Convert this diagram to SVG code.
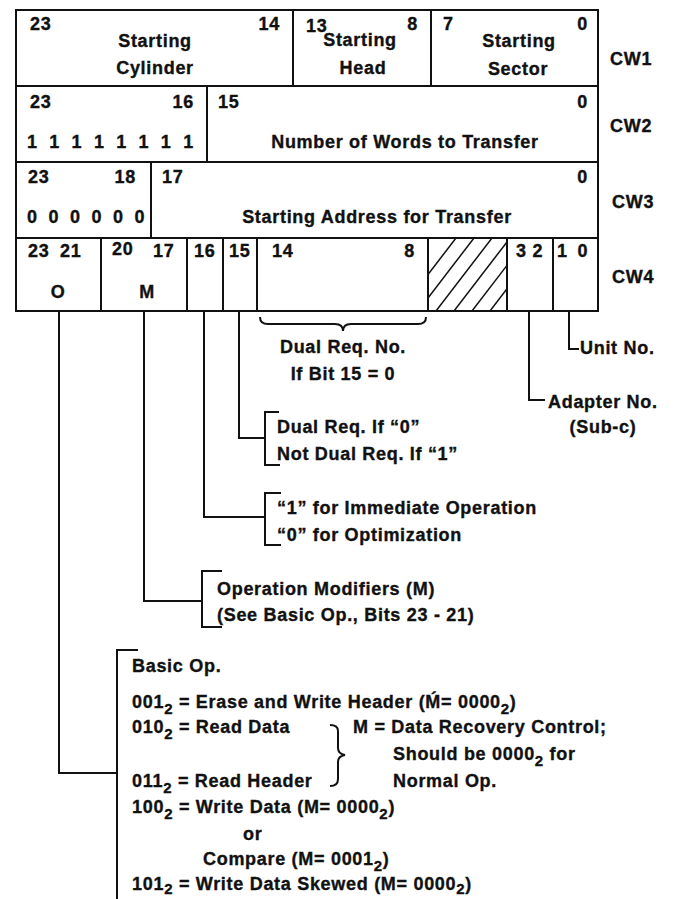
<svg xmlns="http://www.w3.org/2000/svg" width="677" height="899" viewBox="0 0 677 899">
<style>
text{font-family:"Liberation Sans",Arial,Helvetica,sans-serif;font-weight:bold;font-size:18px;letter-spacing:0.7px;fill:#111;stroke:#111;stroke-width:0.35px}
.m{text-anchor:middle}
.e{text-anchor:end}
.cell{fill:#fff;stroke:#111;stroke-width:2}
.ln{fill:none;stroke:#111;stroke-width:2}
.h{stroke:#111;stroke-width:1.5}
.sub{font-size:15px}
</style>
<defs>
<clipPath id="hc"><rect x="428" y="238" width="79" height="73"/></clipPath>
</defs>
<rect width="677" height="899" fill="#fff"/>

<g id="cw1">
<g id="cw1-cyl"><rect class="cell" x="16" y="10" width="277" height="76"/>
<text x="30" y="30">23</text><text class="e" x="280" y="30">14</text>
<text class="m" x="155" y="47">Starting</text><text class="m" x="155" y="74">Cylinder</text></g>
<g id="cw1-head"><rect class="cell" x="293" y="10" width="138" height="76"/>
<text x="306" y="32">13</text><text class="e" x="418" y="30">8</text>
<text class="m" x="360" y="46">Starting</text><text class="m" x="363" y="74">Head</text></g>
<g id="cw1-sec"><rect class="cell" x="431" y="10" width="167" height="76"/>
<text x="443" y="30">7</text><text class="e" x="588" y="30">0</text>
<text class="m" x="519" y="47">Starting</text><text class="m" x="518" y="75">Sector</text></g>
</g>

<g id="cw2">
<g id="cw2-ones"><rect class="cell" x="16" y="86" width="191" height="76"/>
<text x="30" y="108">23</text><text class="e" x="194" y="108">16</text>
<text x="27" y="148" style="word-spacing:5.9px">1 1 1 1 1 1 1 1</text></g>
<g id="cw2-words"><rect class="cell" x="207" y="86" width="391" height="76"/>
<text x="218" y="108">15</text><text class="e" x="588" y="108">0</text>
<text class="m" x="405" y="148">Number of Words to Transfer</text></g>
</g>

<g id="cw3">
<g id="cw3-zeros"><rect class="cell" x="16" y="162" width="135" height="76"/>
<text x="28" y="183">23</text><text class="e" x="136" y="183">18</text>
<text x="27" y="223" style="word-spacing:5.1px">0 0 0 0 0 0</text></g>
<g id="cw3-addr"><rect class="cell" x="151" y="162" width="447" height="76"/>
<text x="162" y="183">17</text><text class="e" x="588" y="183">0</text>
<text class="m" x="377" y="223">Starting Address for Transfer</text></g>
</g>

<g id="cw4">
<g id="cw4-o"><rect class="cell" x="16" y="238" width="85" height="73"/>
<text x="28" y="257">23</text><text x="60" y="257">21</text>
<text class="m" x="58" y="298">O</text></g>
<g id="cw4-m"><rect class="cell" x="101" y="238" width="86" height="73"/>
<text x="112" y="255">20</text><text x="153" y="257">17</text>
<text class="m" x="147" y="298">M</text></g>
<g id="cw4-16"><rect class="cell" x="187" y="238" width="36" height="73"/>
<text x="194" y="257">16</text></g>
<g id="cw4-15"><rect class="cell" x="223" y="238" width="34" height="73"/>
<text x="229" y="257">15</text></g>
<g id="cw4-dual"><rect class="cell" x="257" y="238" width="171" height="73"/>
<text x="272" y="257">14</text><text class="e" x="415" y="257">8</text></g>
<g id="cw4-hatch"><rect class="cell" x="428" y="238" width="79" height="73"/>
<g clip-path="url(#hc)">
<line class="h" x1="400" y1="311" x2="456" y2="238"/>
<line class="h" x1="418" y1="311" x2="474" y2="238"/>
<line class="h" x1="436" y1="311" x2="492" y2="238"/>
<line class="h" x1="454" y1="311" x2="510" y2="238"/>
<line class="h" x1="472" y1="311" x2="528" y2="238"/>
<line class="h" x1="490" y1="311" x2="546" y2="238"/>
</g></g>
<g id="cw4-adapter"><rect class="cell" x="507" y="238" width="46" height="73"/>
<text x="516" y="257">3 2</text></g>
<g id="cw4-unit"><rect class="cell" x="553" y="238" width="45" height="73"/>
<text x="557" y="257" style="word-spacing:4px">1 0</text></g>
</g>

<g id="labels">
<text x="610" y="65">CW1</text>
<text x="610" y="132">CW2</text>
<text x="612" y="208">CW3</text>
<text x="612" y="283">CW4</text>
</g>

<g id="connectors">
<path class="ln" d="M260 317 Q260 324 268 324 L335 324 Q343 324 343 331 Q343 324 351 324 L418 324 Q426 324 426 317"/>
<path class="ln" d="M569 311 L569 349 L579 349"/>
<path class="ln" d="M529 311 L529 400 L545 400"/>
<path class="ln" d="M239 311 L239 438 L265 438"/>
<path class="ln" d="M279 412 L265 412 L265 465 L280 465"/>
<path class="ln" d="M204 311 L204 517 L265 517"/>
<path class="ln" d="M281 493 L265 493 L265 545 L281 545"/>
<path class="ln" d="M144 311 L144 601 L202 601"/>
<path class="ln" d="M222 571 L202 571 L202 627 L222 627"/>
<path class="ln" d="M59 311 L59 773 L117 773"/>
<path class="ln" d="M138 650 L117 650 L117 899"/>
<path class="ln" d="M330 725 Q338 725 338 731 L338 748 Q338 754 345 755 Q338 756 338 762 L338 779 Q338 786 330 786"/>
</g>

<g id="note-unit"><text x="580" y="354">Unit No.</text></g>
<g id="note-adapter"><text x="548" y="408">Adapter No.</text><text class="m" x="603" y="433">(Sub-c)</text></g>
<g id="note-dualno"><text class="m" x="343" y="353">Dual Req. No.</text><text class="m" x="343" y="380">If Bit 15 = 0</text></g>
<g id="note-15"><text x="277" y="433">Dual Req. If “0”</text><text x="277" y="460">Not Dual Req. If “1”</text></g>
<g id="note-16"><text x="277" y="514">“1” for Immediate Operation</text><text x="277" y="541">“0” for Optimization</text></g>
<g id="note-m"><text x="217" y="595">Operation Modifiers (M)</text><text x="217" y="621">(See Basic Op., Bits 23 - 21)</text></g>
<g id="note-o">
<text x="132" y="672">Basic Op.</text>
<text x="132" y="708">001<tspan class="sub" dy="6">2</tspan><tspan dy="-6"> = Erase and Write Header (Ḿ= 0000</tspan><tspan class="sub" dy="6">2</tspan><tspan dy="-6">)</tspan></text>
<text x="132" y="733">010<tspan class="sub" dy="6">2</tspan><tspan dy="-6"> = Read Data</tspan></text>
<text x="132" y="787">011<tspan class="sub" dy="6">2</tspan><tspan dy="-6"> = Read Header</tspan></text>
<text x="353" y="733">M = Data Recovery Control;</text>
<text x="393" y="760">Should be 0000<tspan class="sub" dy="6">2</tspan><tspan dy="-6"> for</tspan></text>
<text x="393" y="787">Normal Op.</text>
<text x="132" y="813">100<tspan class="sub" dy="6">2</tspan><tspan dy="-6"> = Write Data (M= 0000</tspan><tspan class="sub" dy="6">2</tspan><tspan dy="-6">)</tspan></text>
<text x="243" y="840">or</text>
<text x="203" y="865">Compare (M= 0001<tspan class="sub" dy="6">2</tspan><tspan dy="-6">)</tspan></text>
<text x="132" y="890">101<tspan class="sub" dy="4">2</tspan><tspan dy="-4"> = Write Data Skewed (M= 0000</tspan><tspan class="sub" dy="4">2</tspan><tspan dy="-4">)</tspan></text>
</g>
</svg>
